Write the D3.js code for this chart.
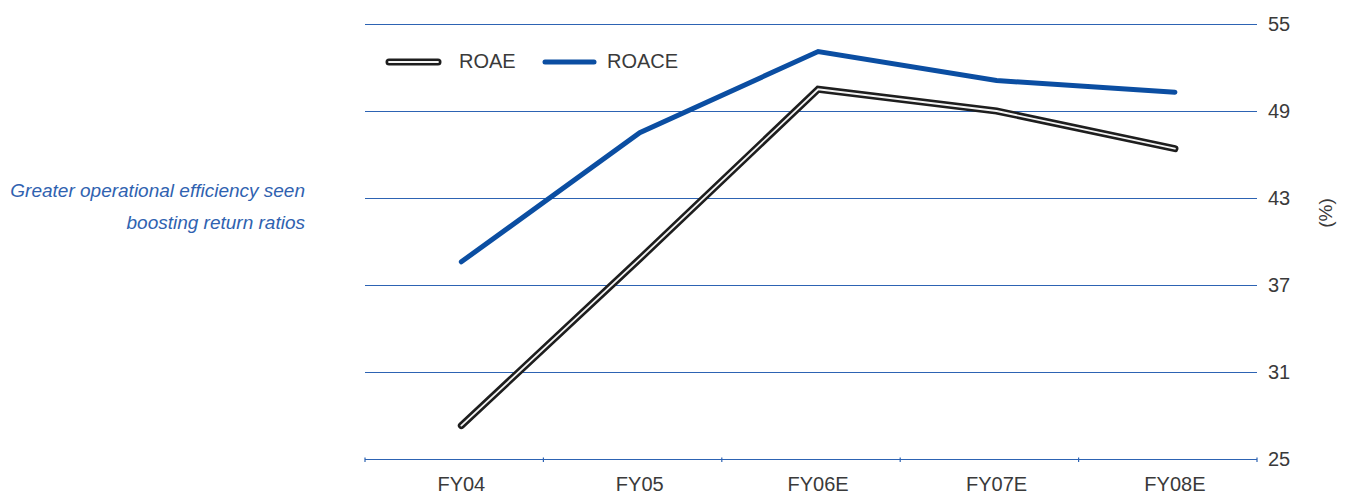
<!DOCTYPE html>
<html>
<head>
<meta charset="utf-8">
<script src="https://cdn.jsdelivr.net/npm/d3@7"></script>
<style>
  html, body { margin: 0; padding: 0; background: #fff; }
  svg { display: block; }
</style>
</head>
<body>
<svg id="chart" width="1352" height="504"></svg>
<script>
const categories = ["FY04", "FY05", "FY06E", "FY07E", "FY08E"];
const roae = [27.3, 38.8, 50.5, 49.0, 46.4];
const roace = [38.6, 47.5, 53.1, 51.1, 50.3];
const yTicks = [25, 31, 37, 43, 49, 55];
const seriesNames = ["ROAE", "ROACE"];
const noteLines = ["Greater operational efficiency seen", "boosting return ratios"];
const unitLabel = "(%)";

(function () {
const svg = d3.select("#chart");
const pLeft = 365, pRight = 1257, pTop = 24, pBottom = 459;
const blue = "#0b4ea2";
const grid = "#2d63b3";
const textCol = "#3a3a3a";
const font = "Liberation Sans, Arial, sans-serif";

const x = d3.scaleBand().domain(categories).range([pLeft, pRight]).padding(0);
const px = c => x(c) + x.bandwidth() * 0.54;
const y = d3.scaleLinear().domain([25, 55]).range([pBottom, pTop]);

// gridlines
svg.append("g").selectAll("line").data(yTicks).join("line")
  .attr("x1", pLeft).attr("x2", pRight)
  .attr("y1", d => Math.round(y(d)) + 0.5).attr("y2", d => Math.round(y(d)) + 0.5)
  .attr("stroke", grid).attr("stroke-width", 1.2);

// right y labels
svg.append("g").selectAll("text").data(yTicks).join("text")
  .attr("x", 1268).attr("y", d => y(d) + 7)
  .attr("font-family", font).attr("font-size", 20).attr("fill", textCol)
  .text(d => d);

// x axis ticks at band boundaries
const bounds = categories.map(c => x(c)).concat([pRight]);
svg.append("g").selectAll("line").data(bounds).join("line")
  .attr("x1", d => d).attr("x2", d => d)
  .attr("y1", pBottom - 1.5).attr("y2", pBottom + 3)
  .attr("stroke", grid).attr("stroke-width", 1.2);

svg.append("g").selectAll("text").data(categories).join("text")
  .attr("x", d => px(d)).attr("y", 491)
  .attr("text-anchor", "middle")
  .attr("font-family", font).attr("font-size", 20).attr("fill", textCol)
  .text(d => d);

// unit label
svg.append("text")
  .attr("transform", "translate(1332,213) rotate(-90)")
  .attr("text-anchor", "middle")
  .attr("font-family", font).attr("font-size", 19).attr("fill", textCol)
  .text(unitLabel);

// note
svg.append("g").selectAll("text").data(noteLines).join("text")
  .attr("x", 305).attr("y", (d, i) => 197 + i * 32)
  .attr("text-anchor", "end")
  .attr("font-family", font).attr("font-style", "italic").attr("font-size", 19)
  .attr("fill", "#2f62b0")
  .text(d => d);

const line = d3.line().x((d, i) => px(categories[i])).y(d => y(d));

// ROACE
svg.append("path").datum(roace)
  .attr("d", line).attr("fill", "none")
  .attr("stroke", blue).attr("stroke-width", 5)
  .attr("stroke-linecap", "round").attr("stroke-linejoin", "miter");

// ROAE double line
svg.append("path").datum(roae)
  .attr("d", line).attr("fill", "none")
  .attr("stroke", "#1e1e1e").attr("stroke-width", 7)
  .attr("stroke-linecap", "round").attr("stroke-linejoin", "miter");
svg.append("path").datum(roae)
  .attr("d", line).attr("fill", "none")
  .attr("stroke", "#f4f4f4").attr("stroke-width", 1.8)
  .attr("stroke-linecap", "round").attr("stroke-linejoin", "miter");

// legend
const lg = svg.append("g");
lg.append("line").attr("x1", 389).attr("x2", 438).attr("y1", 62).attr("y2", 62)
  .attr("stroke", "#1e1e1e").attr("stroke-width", 7).attr("stroke-linecap", "round");
lg.append("line").attr("x1", 389).attr("x2", 438).attr("y1", 62).attr("y2", 62)
  .attr("stroke", "#f4f4f4").attr("stroke-width", 1.8).attr("stroke-linecap", "round");
lg.append("text").attr("x", 459).attr("y", 68)
  .attr("font-family", font).attr("font-size", 20).attr("fill", textCol).text(seriesNames[0]);
lg.append("line").attr("x1", 545).attr("x2", 594).attr("y1", 62).attr("y2", 62)
  .attr("stroke", blue).attr("stroke-width", 5).attr("stroke-linecap", "round");
lg.append("text").attr("x", 607).attr("y", 68)
  .attr("font-family", font).attr("font-size", 20).attr("fill", textCol).text(seriesNames[1]);
})();
</script>
</body>
</html>
